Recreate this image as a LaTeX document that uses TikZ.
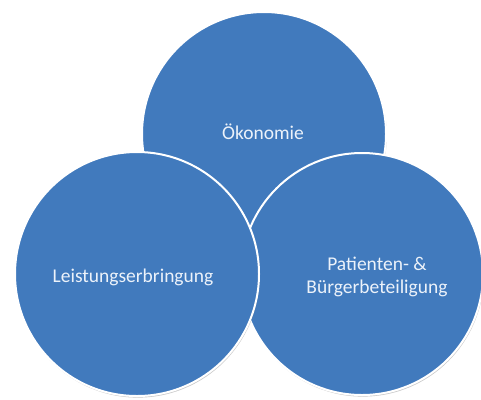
\documentclass[tikz,border=0pt]{standalone}
\usepackage{fontspec}
\setmainfont{Carlito}
\usepackage{xcolor}
\usepackage{tikz}
\usetikzlibrary{shapes,positioning,shadows}

\definecolor{bubbleblue}{RGB}{65,122,189}
\definecolor{bubblefont}{RGB}{236,242,250}

\begin{document}
\begin{tikzpicture}[x=1pt,y=-1pt,
  bubble/.style={circle,fill=bubbleblue,draw=white,line width=2pt,
    drop shadow={shadow xshift=0.8pt,shadow yshift=-1.6pt,opacity=0.35,fill=black!60}},
  bubbletext/.style={text=bubblefont,align=center,font=\fontsize{19.5}{23}\selectfont}]
\useasboundingbox (0,0) rectangle (481,399);

% three overlapping circles, top one lowest
\node[bubble,minimum size=244pt] (oeko) at (264,134) {};
\node[bubble,minimum size=242pt] (pat) at (362,274) {};
\node[bubble,minimum size=244pt] (leist) at (137,274) {};

% labels
\node[bubbletext] (toeko) at (263,132) {Ökonomie};
\node[bubbletext] (tleist) at (133,277) {Leistungserbringung};
\node[bubbletext] (tpat) at (377,277) {Patienten- \&\\Bürgerbeteiligung};
\end{tikzpicture}
\end{document}
